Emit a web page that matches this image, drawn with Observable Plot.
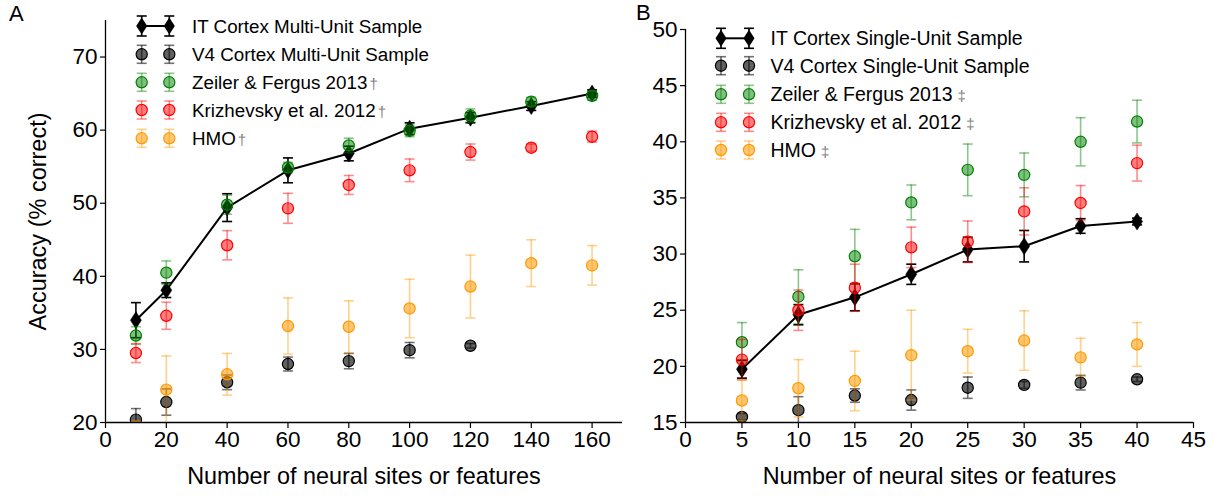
<!DOCTYPE html>
<html><head><meta charset="utf-8">
<script src="https://cdn.jsdelivr.net/npm/d3@7"></script>
<script src="https://cdn.jsdelivr.net/npm/@observablehq/plot@0.6"></script>
<style>
body{margin:0;background:#fff;}
#wrap{position:relative;width:1214px;height:498px;font-family:"Liberation Sans",Arial,sans-serif;color:#000;}
.panel{position:absolute;top:0;}
.letter{position:absolute;font-size:22px;line-height:1;top:3px;}
</style></head><body><div id="wrap"></div>
<script>
// ---------- Panel A data ----------
const xA = [10, 20, 40, 60, 80, 100, 120, 140, 160];
const itA = [34.0, 38.1, 49.4, 54.5, 56.8, 60.2, 61.7, 63.3, 65.0];
const itAerr = [2.4, 1.0, 1.9, 1.7, 1.0, 0.8, 0.7, 0.6, 0.5];
const v4Ax = [10, 20, 40, 60, 80, 100, 120];
const v4A = [20.4, 22.8, 25.5, 28.0, 28.4, 29.9, 30.5];
const v4Aerr = [1.5, 1.8, 1.0, 0.95, 1.05, 1.05, 0.3];
const zfA = [31.9, 40.5, 49.8, 54.9, 57.9, 59.9, 62.0, 63.9, 64.7];
const zfAerr = [1.2, 1.6, 1.3, 0.7, 1.0, 0.8, 0.9, 0.6, 0.6];
const krA = [29.5, 34.6, 44.25, 49.3, 52.5, 54.5, 57.0, 57.6, 59.1];
const krAerr = [1.3, 1.85, 2.0, 2.05, 1.3, 1.55, 1.1, 0.5, 0.75];
const hmoA = [18.0, 24.5, 26.6, 33.2, 33.1, 35.6, 38.6, 41.8, 41.5];
const hmoAerr = [2.2, 4.6, 2.85, 3.85, 3.55, 4.0, 4.3, 3.2, 2.7];
const xTicksA = [0, 20, 40, 60, 80, 100, 120, 140, 160];
const yTicksA = [20, 30, 40, 50, 60, 70];

// ---------- Panel B data ----------
const xB = [5, 10, 15, 20, 25, 30, 35, 40];
const itB = [19.75, 24.6, 26.15, 28.2, 30.4, 30.7, 32.5, 32.9];
const itBerr = [0.8, 0.9, 1.2, 0.9, 1.1, 1.4, 0.65, 0.3];
const v4B = [15.5, 16.1, 17.4, 17.0, 18.1, 18.35, 18.55, 18.85];
const v4Berr = [0.3, 1.2, 0.6, 0.9, 0.95, 0.3, 0.65, 0.2];
const zfB = [22.15, 26.2, 29.8, 34.6, 37.5, 37.05, 40.0, 41.8];
const zfBerr = [1.75, 2.4, 2.4, 1.55, 2.3, 1.95, 2.15, 1.9];
const krB = [20.6, 25.0, 27.0, 30.6, 31.1, 33.8, 34.55, 38.1];
const krBerr = [1.8, 1.8, 2.1, 1.8, 1.85, 2.1, 1.55, 1.6];
const hmoB = [16.96, 18.05, 18.7, 21.0, 21.35, 22.3, 20.8, 21.95];
const hmoBerr = [1.8, 2.55, 2.65, 4.0, 1.95, 2.65, 1.7, 1.95];
const xTicksB = [0, 5, 10, 15, 20, 25, 30, 35, 40, 45];
const yTicksB = [15, 20, 25, 30, 35, 40, 45, 50];

const legendA = ["IT Cortex Multi-Unit Sample", "V4 Cortex Multi-Unit Sample", "Zeiler & Fergus 2013", "Krizhevsky et al. 2012", "HMO"];
const legendB = ["IT Cortex Single-Unit Sample", "V4 Cortex Single-Unit Sample", "Zeiler & Fergus 2013", "Krizhevsky et al. 2012", "HMO"];
const marksA = ["", "", "†", "†", "†"];
const marksB = ["", "", "‡", "‡", "‡"];

const FONT = '"Liberation Sans", Arial, sans-serif';
const styles = {
  it:  {fill: "black", fillOpacity: 1, stroke: "black", estroke: "black", eop: 1, diamond: true},
  v4:  {fill: "black", fillOpacity: 0.62, stroke: "black", estroke: "black", eop: 0.55},
  zf:  {fill: "green", fillOpacity: 0.5, stroke: "green", estroke: "green", eop: 0.45},
  kr:  {fill: "red", fillOpacity: 0.5, stroke: "red", estroke: "red", eop: 0.45},
  hmo: {fill: "#ff9900", fillOpacity: 0.55, stroke: "#ff9900", estroke: "#ff9900", eop: 0.45}
};

const capSym = {draw(ctx, size) { const r = Math.sqrt(size / Math.PI); ctx.moveTo(-r, 0); ctx.lineTo(r, 0); }};
const diamondSym = {draw(ctx, size) { const r = Math.sqrt(size / Math.PI); ctx.moveTo(0, -r * 1.55); ctx.lineTo(r, 0); ctx.lineTo(0, r * 1.55); ctx.lineTo(-r, 0); ctx.closePath(); }};

function rows(xs, ys, es) { return xs.map((x, i) => ({x, y: ys[i], e: es[i]})); }

function seriesMarks(data, s, withLine) {
  const m = [];
  if (withLine) m.push(Plot.line(data, {x: "x", y: "y", stroke: "black", strokeWidth: 2, clip: true}));
  m.push(Plot.ruleX(data, {x: "x", y1: d => d.y - d.e, y2: d => d.y + d.e, stroke: s.estroke, strokeOpacity: s.eop, strokeWidth: 1.6, clip: true}));
  m.push(Plot.dot(data, {x: "x", y: d => d.y - d.e, symbol: capSym, r: 5, stroke: s.estroke, strokeOpacity: s.eop, strokeWidth: 1.6, clip: true}));
  m.push(Plot.dot(data, {x: "x", y: d => d.y + d.e, symbol: capSym, r: 5, stroke: s.estroke, strokeOpacity: s.eop, strokeWidth: 1.6, clip: true}));
  if (s.diamond) {
    m.push(Plot.dot(data, {x: "x", y: "y", symbol: diamondSym, r: 5.5, fill: "black", stroke: "black", strokeWidth: 0.5, clip: true}));
  } else {
    m.push(Plot.dot(data, {x: "x", y: "y", r: 5.6, fill: s.fill, fillOpacity: s.fillOpacity, stroke: s.stroke, strokeWidth: 1.2, clip: true}));
  }
  return m;
}

function panel(opts) {
  return Plot.plot({
    width: opts.width, height: 498,
    marginLeft: opts.ml, marginRight: opts.mr, marginTop: opts.mt, marginBottom: 76,
    x: {domain: opts.xd}, y: {domain: opts.yd},
    style: {fontSize: "22.5px", fontFamily: FONT, color: "black", background: "transparent", overflow: "visible"},
    marks: [
      Plot.axisX({ticks: opts.xt, tickSize: 6, tickPadding: 3, label: null, tickFormat: d => String(d), strokeWidth: 1.2}),
      Plot.axisY({ticks: opts.yt, tickSize: 5, tickPadding: 3, label: null, tickFormat: d => String(d), strokeWidth: 1.2}),
      Plot.ruleX([opts.xd[0]], {stroke: "black", strokeWidth: 1.3}),
      Plot.ruleY([opts.yd[0]], {stroke: "black", strokeWidth: 1.3}),
      ...seriesMarks(opts.it, styles.it, true),
      ...seriesMarks(opts.v4, styles.v4),
      ...seriesMarks(opts.zf, styles.zf),
      ...seriesMarks(opts.kr, styles.kr),
      ...seriesMarks(opts.hmo, styles.hmo),
      Plot.text(["Number of neural sites or features"], {frameAnchor: "bottom", dy: 61, fontSize: 23.4}),
      ...(opts.ylabel ? [Plot.text([opts.ylabel], {frameAnchor: "left", textAnchor: "middle", dx: -67, rotate: -90, fontSize: 23.5})] : [])
    ]
  });
}

const wrap = document.getElementById("wrap");

const pA = panel({
  width: 640, ml: 105, mr: 18, mt: 20, xd: [0, 170], yd: [20, 75], xt: xTicksA, yt: yTicksA,
  it: rows(xA, itA, itAerr), v4: rows(v4Ax, v4A, v4Aerr), zf: rows(xA, zfA, zfAerr),
  kr: rows(xA, krA, krAerr), hmo: rows(xA, hmoA, hmoAerr), ylabel: "Accuracy (% correct)"
});
pA.classList.add("panel"); pA.style.left = "0px";
wrap.appendChild(pA);

const pB = panel({
  width: 574, ml: 45, mr: 21, mt: 29, xd: [0, 45], yd: [15, 50], xt: xTicksB, yt: yTicksB,
  it: rows(xB, itB, itBerr), v4: rows(xB, v4B, v4Berr), zf: rows(xB, zfB, zfBerr),
  kr: rows(xB, krB, krBerr), hmo: rows(xB, hmoB, hmoBerr)
});
pB.classList.add("panel"); pB.style.left = "640px";
wrap.appendChild(pB);

function drawLegend(left, labels, marks, mx, tx, ry, sep, fs) {
  const keys = ["it", "v4", "zf", "kr", "hmo"];
  const svg = d3.select(wrap).append("svg").attr("class", "panel").style("left", left + "px")
    .attr("width", 560).attr("height", 170).style("overflow", "visible");
  labels.forEach((lab, i) => {
    const s = styles[keys[i]];
    const y = ry[i];
    const g = svg.append("g");
    if (i === 0) g.append("line").attr("x1", mx[0]).attr("x2", mx[1]).attr("y1", y).attr("y2", y).attr("stroke", "black").attr("stroke-width", 2);
    const eh = i === 0 ? 10 : 9;
    mx.forEach(x => {
      g.append("line").attr("x1", x).attr("x2", x).attr("y1", y - eh).attr("y2", y + eh).attr("stroke", s.estroke).attr("stroke-opacity", s.eop).attr("stroke-width", 1.6);
      [y - eh, y + eh].forEach(cy => g.append("line").attr("x1", x - 5).attr("x2", x + 5).attr("y1", cy).attr("y2", cy).attr("stroke", s.estroke).attr("stroke-opacity", s.eop).attr("stroke-width", 1.6));
      if (s.diamond) {
        g.append("path").attr("d", `M${x},${y - 8.5}L${x + 5.5},${y}L${x},${y + 8.5}L${x - 5.5},${y}Z`).attr("fill", "black");
      } else {
        g.append("circle").attr("cx", x).attr("cy", y).attr("r", 5.6).attr("fill", s.fill).attr("fill-opacity", s.fillOpacity).attr("stroke", s.stroke).attr("stroke-width", 1.2);
      }
    });
    const t = g.append("text").attr("x", tx).attr("y", y).attr("dy", "0.36em")
      .style("font-size", fs + "px").style("font-family", FONT).text(lab);
    if (marks[i]) t.append("tspan").attr("fill", "#808080").attr("dx", sep).style("font-size", "15px").text(marks[i]);
  });
}

drawLegend(0, legendA, marksA, [141.7, 169.3], 192, [26, 54.3, 82.3, 110, 138.3], 2, 18.8);
drawLegend(640, legendB, marksB, [81, 109], 130.5, [38.3, 65.7, 94.3, 122.3, 150], 5, 19.5);

const la = document.createElement("div"); la.className = "letter"; la.style.left = "9px"; la.textContent = "A"; wrap.appendChild(la);
const lb = document.createElement("div"); lb.className = "letter"; lb.style.left = "636px"; lb.style.top = "2px"; lb.textContent = "B"; wrap.appendChild(lb);
</script></body></html>
